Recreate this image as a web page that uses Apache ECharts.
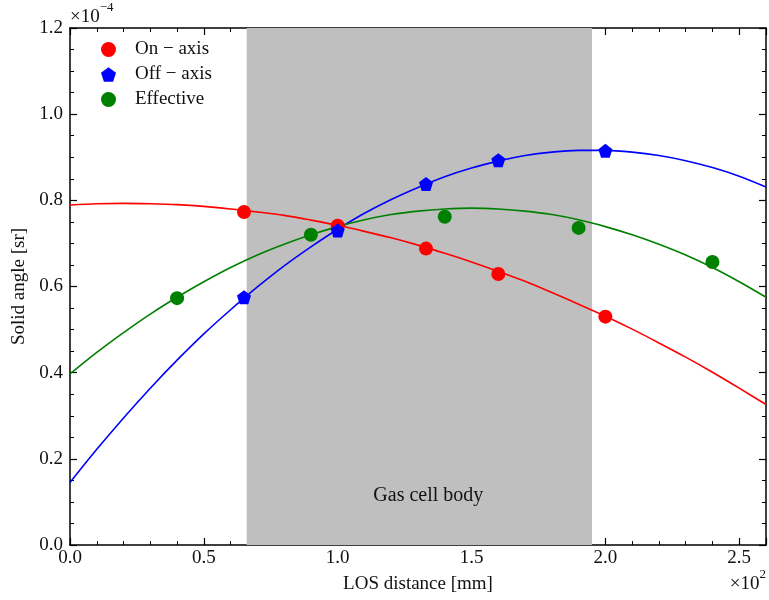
<!DOCTYPE html>
<html>
<head>
<meta charset="utf-8">
<script src="https://cdn.jsdelivr.net/npm/echarts@6/dist/echarts.min.js"></script>
<style>
  html, body { margin: 0; padding: 0; background: #fff; }
  #chart { width: 769px; height: 600px; }
</style>
</head>
<body>
<div id="chart"></div>
<script>
// LOS distance in units of 1e2 mm, solid angle in units of 1e-4 sr
const onAxisX = [0.65, 1.0, 1.33, 1.6, 2.0];
const onAxisY = [0.773, 0.741, 0.688, 0.629, 0.530];

const offAxisX = [0.65, 1.0, 1.33, 1.6, 2.0];
const offAxisY = [0.575, 0.730, 0.838, 0.893, 0.915];

const effectiveX = [0.40, 0.90, 1.40, 1.90, 2.40];
const effectiveY = [0.573, 0.720, 0.762, 0.736, 0.657];

// Fitted curves, sampled every 0.1 along the LOS distance
const fitX = [0.0, 0.1, 0.2, 0.3, 0.4, 0.5, 0.6, 0.7, 0.8, 0.9, 1.0, 1.1, 1.2, 1.3,
              1.4, 1.5, 1.6, 1.7, 1.8, 1.9, 2.0, 2.1, 2.2, 2.3, 2.4, 2.5, 2.6];
const onAxisFit = [0.789, 0.792, 0.793, 0.792, 0.790, 0.786, 0.780, 0.773, 0.765, 0.754,
                   0.742, 0.728, 0.713, 0.696, 0.677, 0.657, 0.635, 0.612, 0.586, 0.559,
                   0.531, 0.501, 0.469, 0.436, 0.401, 0.364, 0.326];
const offAxisFit = [0.145, 0.222, 0.295, 0.364, 0.429, 0.490, 0.546, 0.599, 0.648, 0.692,
                    0.733, 0.770, 0.802, 0.830, 0.855, 0.875, 0.891, 0.904, 0.912, 0.916,
                    0.916, 0.912, 0.904, 0.892, 0.876, 0.856, 0.831];
const effectiveFit = [0.397, 0.447, 0.493, 0.536, 0.575, 0.611, 0.644, 0.673, 0.698, 0.720,
                      0.739, 0.755, 0.767, 0.775, 0.780, 0.782, 0.780, 0.775, 0.767, 0.755,
                      0.739, 0.720, 0.698, 0.673, 0.644, 0.611, 0.575];

// Gas cell body extent along the line of sight
const cellStart = 0.66;
const cellEnd = 1.95;

const xTicks = [0.0, 0.5, 1.0, 1.5, 2.0, 2.5];
const yTicks = [0.0, 0.2, 0.4, 0.6, 0.8, 1.0, 1.2];

const pentagon = 'path://M0,-1 L0.951,-0.309 L0.588,0.809 L-0.588,0.809 L-0.951,-0.309 Z';
const FONT = '"Liberation Serif", "DejaVu Serif", serif';
const INK = '#111';

const zip = (xs, ys) => xs.map((x, i) => [x, ys[i]]);

const chart = echarts.init(document.getElementById('chart'), null, { renderer: 'canvas' });

function frameAxis(splitNumber) {
  return {
    axisLine: { show: true, onZero: false, lineStyle: { color: '#000', width: 1.5 } },
    axisTick: { show: true, inside: true, length: 7, lineStyle: { color: '#000', width: 1.2 } },
    minorTick: { show: true, splitNumber: splitNumber, length: 4, lineStyle: { color: '#000', width: 1 } },
    splitLine: { show: false },
    minorSplitLine: { show: false }
  };
}

const xFmt = v => xTicks.some(t => Math.abs(t - v) < 1e-9) ? v.toFixed(1) : '';
const yFmt = v => yTicks.some(t => Math.abs(t - v) < 1e-9) ? v.toFixed(1) : '';

const option = {
  animation: false,
  backgroundColor: '#fff',
  grid: { left: 70, right: 3, top: 28, bottom: 55, containLabel: false },
  xAxis: [
    Object.assign({
      type: 'value', position: 'bottom', min: 0, max: 2.6, interval: 0.5,
      name: 'LOS distance [mm]', nameLocation: 'middle', nameGap: 30,
      nameTextStyle: { fontFamily: FONT, fontSize: 19, color: INK },
      axisLabel: { formatter: xFmt, fontFamily: FONT, fontSize: 19, color: INK, margin: 4, showMaxLabel: false }
    }, frameAxis(5)),
    Object.assign({
      type: 'value', position: 'top', min: 0, max: 2.6, interval: 0.5,
      axisLabel: { show: false }
    }, frameAxis(5))
  ],
  yAxis: [
    Object.assign({
      type: 'value', position: 'left', min: 0, max: 1.2, interval: 0.2,
      name: 'Solid angle [sr]', nameLocation: 'middle', nameGap: 38, nameRotate: 90,
      nameTextStyle: { fontFamily: FONT, fontSize: 19, color: INK },
      axisLabel: { formatter: yFmt, fontFamily: FONT, fontSize: 19, color: INK, margin: 7 }
    }, frameAxis(4)),
    Object.assign({
      type: 'value', position: 'right', min: 0, max: 1.2, interval: 0.2,
      axisLabel: { show: false }
    }, frameAxis(4))
  ],
  legend: {
    orient: 'vertical', left: 96, top: 35, itemGap: 6,
    itemWidth: 15, itemHeight: 15,
    textStyle: { fontFamily: FONT, fontSize: 19, color: INK, padding: [0, 0, 0, 14] },
    data: [
      { name: 'On \u2212 axis', icon: 'circle' },
      { name: 'Off \u2212 axis', icon: pentagon },
      { name: 'Effective', icon: 'circle' }
    ]
  },
  series: [
    {
      name: 'cell', type: 'line', data: [], silent: true,
      markArea: {
        silent: true,
        itemStyle: { color: '#bfbfbf' },
        label: {
          show: true, position: 'insideBottom', distance: 39, offset: [9, 0],
          fontFamily: FONT, fontSize: 20, color: INK
        },
        data: [[{ xAxis: cellStart, yAxis: 0, name: 'Gas cell body' }, { xAxis: cellEnd, yAxis: 1.2 }]]
      }
    },
    {
      name: 'onFit', type: 'line', data: zip(fitX, onAxisFit), smooth: 0.3,
      showSymbol: false, silent: true, lineStyle: { color: '#ff0000', width: 1.6 }, z: 3
    },
    {
      name: 'offFit', type: 'line', data: zip(fitX, offAxisFit), smooth: 0.3,
      showSymbol: false, silent: true, lineStyle: { color: '#0000ff', width: 1.6 }, z: 3
    },
    {
      name: 'effFit', type: 'line', data: zip(fitX, effectiveFit), smooth: 0.3,
      showSymbol: false, silent: true, lineStyle: { color: '#008000', width: 1.6 }, z: 3
    },
    {
      name: 'On \u2212 axis', type: 'scatter', data: zip(onAxisX, onAxisY),
      symbol: 'circle', symbolSize: 14, itemStyle: { color: '#ff0000', opacity: 1 }, z: 5
    },
    {
      name: 'Off \u2212 axis', type: 'scatter', data: zip(offAxisX, offAxisY),
      symbol: pentagon, symbolSize: 14, itemStyle: { color: '#0000ff', opacity: 1 }, z: 5
    },
    {
      name: 'Effective', type: 'scatter', data: zip(effectiveX, effectiveY),
      symbol: 'circle', symbolSize: 14, itemStyle: { color: '#008000', opacity: 1 }, z: 5
    }
  ],
  graphic: [
    {
      type: 'text', left: 70, top: 1,
      style: {
        text: '{b|\u00d710}{s|\u22124}',
        rich: {
          b: { fontFamily: FONT, fontSize: 19, fill: INK, padding: [7, 0, 0, 0] },
          s: { fontFamily: FONT, fontSize: 13, fill: INK, verticalAlign: 'top' }
        }
      }
    },
    {
      type: 'text', right: 3, top: 568,
      style: {
        text: '{b|\u00d710}{s|2}',
        rich: {
          b: { fontFamily: FONT, fontSize: 19, fill: INK, padding: [7, 0, 0, 0] },
          s: { fontFamily: FONT, fontSize: 13, fill: INK, verticalAlign: 'top' }
        }
      }
    }
  ]
};

chart.setOption(option);
</script>
</body>
</html>
